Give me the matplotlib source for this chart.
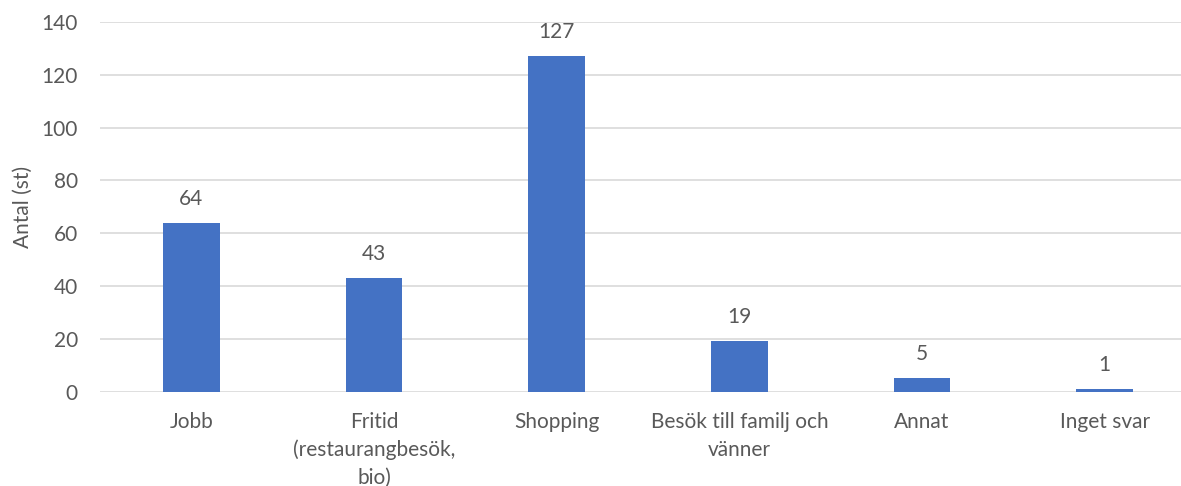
import matplotlib.pyplot as plt

categories = ["Jobb", "Fritid\n(restaurangbesök,\nbio)", "Shopping",
              "Besök till familj och\nvänner", "Annat", "Inget svar"]
values = [64, 43, 127, 19, 5, 1]
yticks = [0, 20, 40, 60, 80, 100, 120, 140]

plt.rcParams['font.family'] = ['Lato', 'DejaVu Sans']
text_color = "#595959"

fig = plt.figure(figsize=(11.81, 4.86), dpi=100)
# the original is cropped on the right, so the axes run past the figure edge
ax = fig.add_axes([100 / 1181, 1 - 391.5 / 486, 1096 / 1181, 369.5 / 486])

x = range(len(categories))
bars = ax.bar(x, values, width=0.31, color="#4472C4", zorder=3)

for xi, v in zip(x, values):
    ax.annotate(str(v), (xi, v), xytext=(0, 10), textcoords="offset points",
                ha="center", va="bottom", fontsize=15, color=text_color)

ax.set_xlim(-0.5, len(categories) - 0.5)
ax.set_ylim(0, 140)
ax.set_yticks(yticks)
ax.set_xticks(list(x))
ax.set_xticklabels(categories, fontsize=15, color=text_color, linespacing=1.45)
ax.tick_params(axis="y", labelsize=15, labelcolor=text_color, length=0, pad=16)
ax.tick_params(axis="x", length=0, pad=15)
ax.grid(axis="y", color="#d9d9d9", linewidth=1.2, zorder=0)
for s in ax.spines.values():
    s.set_visible(False)
ax.set_ylabel("Antal (st)", fontsize=15, color=text_color, labelpad=6)

fig.savefig("out.png", dpi=100)
